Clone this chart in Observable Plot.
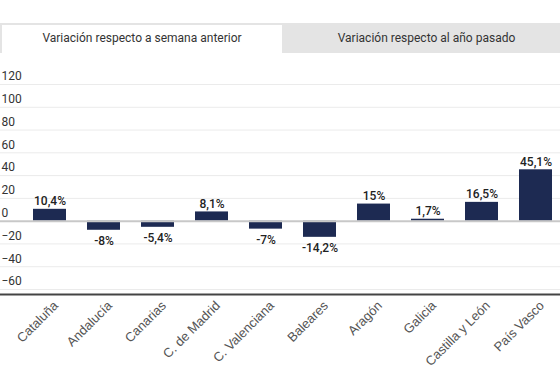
<!DOCTYPE html>
<html>
<head>
<meta charset="utf-8">
<script src="https://cdn.jsdelivr.net/npm/d3@7"></script>
<script src="https://cdn.jsdelivr.net/npm/@observablehq/plot@0.6"></script>
<style>
  html, body { margin: 0; padding: 0; background: #fff; }
  body { width: 560px; height: 381px; overflow: hidden; font-family: Roboto, sans-serif; }
  #tabs { margin-top: 23px; height: 30px; background: #e4e4e4; position: relative; }
  .tab { position: absolute; top: 2px; height: 28px; line-height: 26px; text-align: center; font-size: 12px; color: #333; }
  .tab.active { left: 2px; width: 280px; background: #fff; }
  .tab.inactive { left: 283px; width: 287px; }
  #chart svg { display: block; }
</style>
</head>
<body>
<div id="tabs">
  <div class="tab active">Variación respecto a semana anterior</div>
  <div class="tab inactive">Variación respecto al año pasado</div>
</div>
<div id="chart"></div>
<script>
const categories = ["Cataluña", "Andalucía", "Canarias", "C. de Madrid", "C. Valenciana", "Baleares", "Aragón", "Galicia", "Castilla y León", "País Vasco"];
const values = [10.4, -8, -5.4, 8.1, -7, -14.2, 15, 1.7, 16.5, 45.1];
const valueLabels = ["10,4%", "-8%", "-5,4%", "8,1%", "-7%", "-14,2%", "15%", "1,7%", "16,5%", "45,1%"];
const yTicks = [-60, -40, -20, 0, 20, 40, 60, 80, 100, 120];

const data = categories.map((c, i) => ({region: c, value: values[i], label: valueLabels[i]}));
const pos = data.filter(d => d.value >= 0);
const neg = data.filter(d => d.value < 0);

const chart = Plot.plot({
  width: 560,
  height: 328,
  marginLeft: 0,
  marginRight: 0,
  marginTop: 0,
  marginBottom: 87,
  style: {fontFamily: "Roboto, sans-serif", fontSize: "12px", background: "white", color: "#333"},
  x: {domain: categories, range: [19.7, 565.3], paddingInner: 0.38, paddingOuter: 0.19, axis: null},
  y: {domain: [-64.4, 120], range: [241, 31], axis: null},
  marks: [
    Plot.ruleY(yTicks.filter(d => d !== 0), {stroke: "#ebebeb", strokeWidth: 1}),
    Plot.axisY(yTicks, {anchor: "left", tickSize: 0, tickPadding: 0, textAnchor: "start", dx: 1, dy: -8, fontSize: 12, fill: "#333", label: null}),
    Plot.barY(data, {x: "region", y: "value", fill: "#1d2a52"}),
    Plot.ruleY([0], {stroke: "#c8c8c8", strokeWidth: 2}),
    Plot.ruleY([-64.4], {stroke: "#444", strokeWidth: 2}),
    Plot.text(pos, {x: "region", y: "value", text: "label", dy: -8, fontSize: 12, fontWeight: 500, fill: "#222"}),
    Plot.text(neg, {x: "region", y: "value", text: "label", dy: 11, fontSize: 12, fontWeight: 500, fill: "#222"}),
    Plot.axisX({anchor: "bottom", tickSize: 0, tickPadding: 6, tickRotate: -45, dx: 6, dy: 3, fontSize: 13, fontFamily: "'Liberation Sans', Arial, sans-serif", fill: "#555", label: null})
  ]
});
document.getElementById("chart").appendChild(chart);
</script>
</body>
</html>
